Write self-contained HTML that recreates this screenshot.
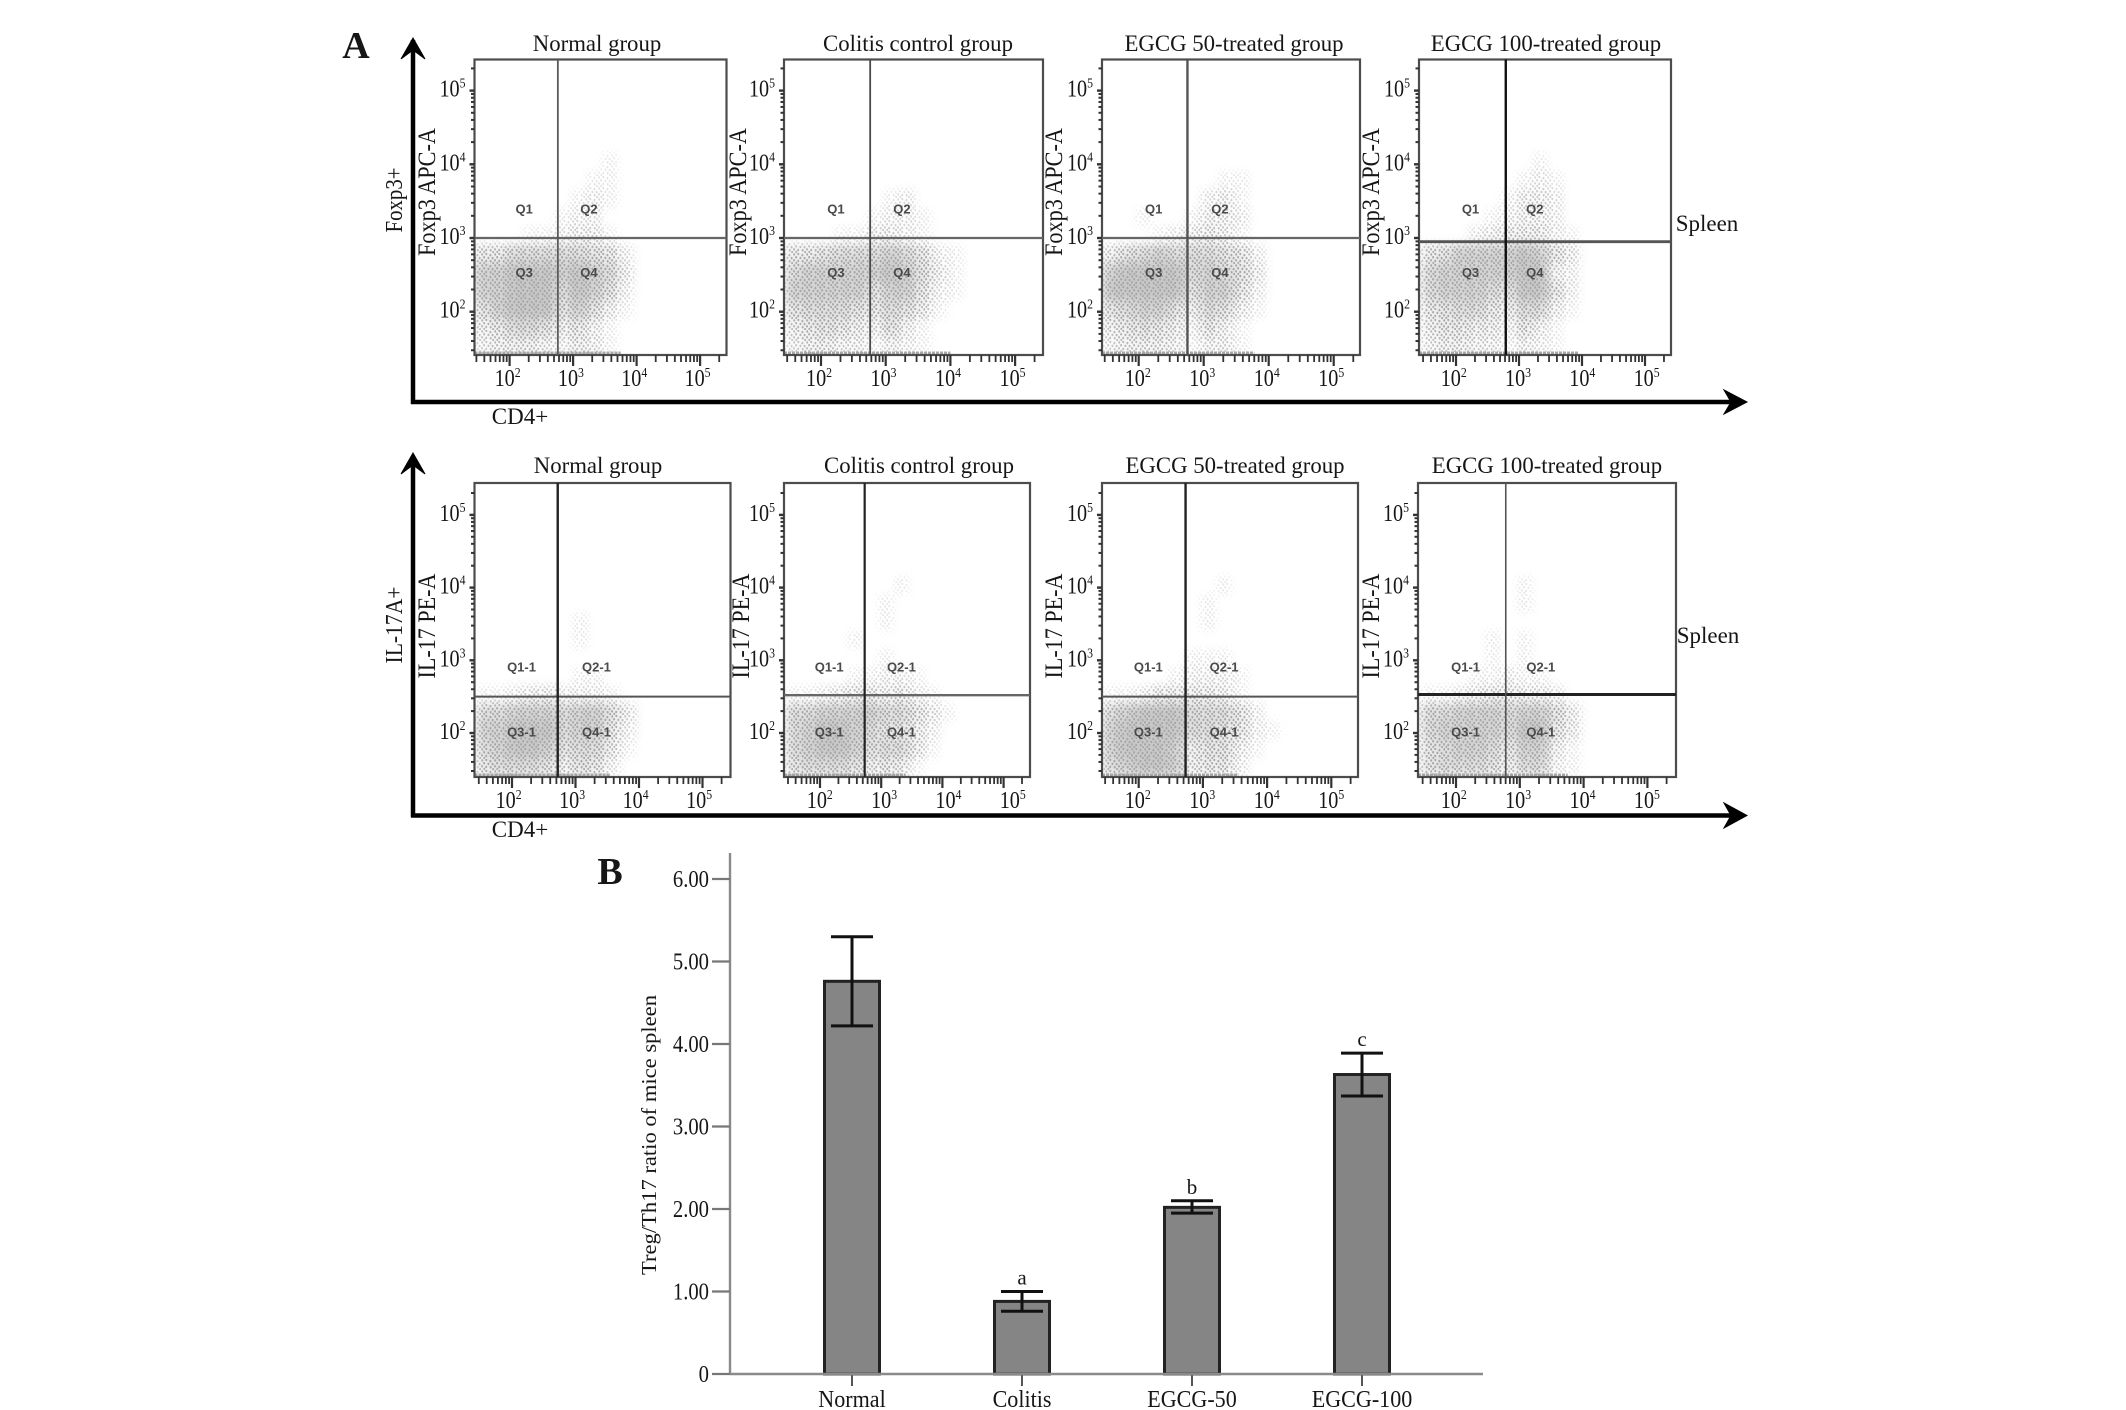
<!DOCTYPE html>
<html lang="en">
<head>
<meta charset="utf-8">
<title>Treg and Th17 flow cytometry with Treg/Th17 ratio</title>
<style>
html,body{margin:0;padding:0;background:#fff;width:2126px;height:1410px;overflow:hidden}
svg{display:block}
text{font-family:"Liberation Serif",serif;fill:#161616}
.q{font-family:"Liberation Sans",sans-serif;font-size:13px;font-weight:bold;fill:#4a4a4a;text-anchor:middle;dominant-baseline:middle}
</style>
</head>
<body>
<svg id="figure" width="2126" height="1410" viewBox="0 0 2126 1410" xmlns="http://www.w3.org/2000/svg">
  <defs>
    <pattern id="stipple" width="13" height="11" patternUnits="userSpaceOnUse">
      <g fill="#a6a6a6">
        <ellipse cx="1.2" cy="1.4" rx="1" ry="1.3"/>
        <ellipse cx="5.3" cy="0.9" rx="1" ry="1.3"/>
        <ellipse cx="9.4" cy="2.1" rx="1" ry="1.3"/>
        <ellipse cx="3.1" cy="4.2" rx="1" ry="1.3"/>
        <ellipse cx="7.4" cy="4.9" rx="1" ry="1.3"/>
        <ellipse cx="11.6" cy="5.1" rx="1" ry="1.3"/>
        <ellipse cx="1.0" cy="7.3" rx="1" ry="1.3"/>
        <ellipse cx="5.2" cy="7.9" rx="1" ry="1.3"/>
        <ellipse cx="9.7" cy="8.2" rx="1" ry="1.3"/>
        <ellipse cx="3.3" cy="9.9" rx="1" ry="1.1"/>
        <ellipse cx="12.1" cy="10.1" rx="1" ry="1.1"/>
      </g>
    </pattern>
    <filter id="soft" x="-10%" y="-10%" width="120%" height="120%"><feGaussianBlur stdDeviation="5"/></filter>
    <filter id="softer" x="-10%" y="-10%" width="120%" height="120%"><feGaussianBlur stdDeviation="4"/></filter>
  </defs>
  <rect width="2126" height="1410" fill="#fff"/>
  <text x="356" y="58" font-size="38" font-weight="bold" text-anchor="middle">A</text>
  <text x="610" y="884" font-size="38" font-weight="bold" text-anchor="middle">B</text>

  <g fill="none" stroke="#000" stroke-width="4.5">
    <path d="M413 404V40"/>
    <path d="M401 59L413 38L425 59L413 50Z" fill="#000" stroke-width="1"/>
    <path d="M411 402H1742"/>
    <path d="M1724 390L1747 402L1724 414L1731 402Z" fill="#000" stroke-width="1"/>
  </g>
  <g fill="none" stroke="#000" stroke-width="4.5">
    <path d="M413 817V457"/>
    <path d="M401 474L413 453L425 474L413 465Z" fill="#000" stroke-width="1"/>
    <path d="M411 815.5H1742"/>
    <path d="M1724 803L1747 815.5L1724 828L1731 815.5Z" fill="#000" stroke-width="1"/>
  </g>

  <text transform="translate(402,200) rotate(-90)" font-size="24" text-anchor="middle" textLength="65" lengthAdjust="spacingAndGlyphs">Foxp3+</text>
  <text transform="translate(402,625) rotate(-90)" font-size="24" text-anchor="middle" textLength="77" lengthAdjust="spacingAndGlyphs">IL-17A+</text>
  <text x="520" y="424" font-size="23" text-anchor="middle">CD4+</text>
  <text x="520" y="837" font-size="23" text-anchor="middle">CD4+</text>
  <text x="1707" y="231" font-size="23" text-anchor="middle">Spleen</text>
  <text x="1708" y="643" font-size="23" text-anchor="middle">Spleen</text>

  <g id="panels"></g>
  <g id="bars"></g>
</svg>

<script>
// ---------- Flow cytometry data ----------
var groupNames = ["Normal group", "Colitis control group", "EGCG 50-treated group", "EGCG 100-treated group"];
var decadeTicks = [2, 3, 4, 5];
var minorMultipliers = [2, 3, 4, 5, 6, 7, 8, 9];

// Gate positions, log10 units
var foxp3GateX = [2.76, 2.76, 2.75, 2.79];
var foxp3GateY = [3.0, 3.0, 3.0, 2.95];
var il17GateX = [2.72, 2.73, 2.73, 2.78];
var il17GateY = [2.5, 2.52, 2.5, 2.53];

// Extent of the events piled on the lower axis, log10 x
var foxp3PileEnd = [3.75, 4.0, 3.78, 3.95];
var il17PileEnd = [3.55, 3.4, 3.55, 3.75];

// Event density (0-9), rows from log y 4.41 down to 1.41, columns from log x 1.45 upward, 0.25 decade each
var densityFoxp3Normal = [
"000000000000","000000001000","000000011000","000000121000","000001220000","000112331000",
"557777765200","889998987300","889997986200","689996863100","457764531000","344432431000"];
var densityFoxp3Colitis = [
"000000000000","000000000000","000000000000","000000120000","000001221000","000113321000",
"556777875210","788888986310","888886885210","677765764100","456543631000","344331321000"];
var densityFoxp3Egcg50 = [
"000000000000","000000000000","000000011000","000000231000","001001332000","000123431000",
"467877765200","899997876300","999996885200","678864763100","456542531000","344431331000"];
var densityFoxp3Egcg100 = [
"000000000000","000000010000","000000121000","000001332000","000012332000","000234442100",
"568888985300","788888993200","788876995200","567754773100","455442531000","344331321000"];
var densityIl17Normal = [
"000000000000","000000000000","000000000000","000000100000","000000100000","000000000000",
"000000110000","112332221000","778887886300","889997885200","789986774100","677764652000"];
var densityIl17Colitis = [
"000000000000","000000010000","000000100000","000000100000","000010000000","000000100000",
"000011221000","112344342100","778888775310","789987664200","789986774100","677764541000"];
var densityIl17Egcg50 = [
"000000000000","000000010000","000000100000","000000100000","000000000000","000001110000",
"000012221000","112444431000","789997775200","899997765210","899984663100","789984552000"];
var densityIl17Egcg100 = [
"000000000000","000000100000","000000100000","000000000000","000010100000","000010100000",
"000112110000","112344332000","778887886300","788887995300","678875883100","677764772100"];

// ---------- Bar chart data ----------
var barCategories = ["Normal", "Colitis", "EGCG-50", "EGCG-100"];
var barMeans = [4.76, 0.88, 2.02, 3.63];
var barUpper = [5.30, 1.00, 2.10, 3.89];
var barLower = [4.22, 0.76, 1.95, 3.37];
var barLetters = ["", "a", "b", "c"];
var barTicks = ["0", "1.00", "2.00", "3.00", "4.00", "5.00", "6.00"];
var barTickValues = [0, 1, 2, 3, 4, 5, 6];

// ---------- Layout (not data) ----------
var NS = "http://www.w3.org/2000/svg";
var layout = [
  {row:"foxp3", label:"Foxp3 APC-A", len:128, density:[densityFoxp3Normal,densityFoxp3Colitis,densityFoxp3Egcg50,densityFoxp3Egcg100], gx:foxp3GateX, gy:foxp3GateY, pile:foxp3PileEnd,
   titleY:51, labelCy:192, top:59.5, bottom:355, y2:311.7, yd:73.7, yLabelShift:-1, xLabelY:385,
   qY:[3.38,2.52], qX:[2.23,3.25], qSuffix:"",
   cols:[
    {l:474.5,r:726.5,x2:509.6,xd:63.5,lab2:508.6,labd:63.3,cx:597,lx:435,vc:"#5a5a5a",vw:1.8,hc:"#666",hw:2.2},
    {l:784,r:1043,x2:821,xd:64.7,lab2:820,labd:64.5,cx:918,lx:746,vc:"#4a4a4a",vw:1.8,hc:"#666",hw:2.2},
    {l:1102,r:1360,x2:1138.7,xd:65,lab2:1138.7,labd:64.5,cx:1234,lx:1062,vc:"#555",vw:2.4,hc:"#666",hw:2.2},
    {l:1419,r:1671,x2:1456,xd:63,lab2:1454.7,labd:64.3,cx:1546,lx:1379,vc:"#111",vw:2.4,hc:"#555",hw:2.8}]},
  {row:"il17", label:"IL-17 PE-A", len:105, density:[densityIl17Normal,densityIl17Colitis,densityIl17Egcg50,densityIl17Egcg100], gx:il17GateX, gy:il17GateY, pile:il17PileEnd,
   titleY:473, labelCy:626, top:483, bottom:777, y2:733, yd:72.7, yLabelShift:-1, xLabelY:807,
   qY:[2.89,2.0], qX:[2.15,3.33], qSuffix:"-1",
   cols:[
    {l:474.5,r:730.5,x2:512,xd:63.5,lab2:509.6,labd:63.5,cx:598,lx:435,vc:"#222",vw:2.4,hc:"#555",hw:2},
    {l:784,r:1030,x2:820,xd:61.2,lab2:820.8,labd:64.3,cx:919,lx:749,vc:"#222",vw:2.2,hc:"#666",hw:2.4},
    {l:1102,r:1358,x2:1138.7,xd:64.2,lab2:1138.7,labd:64.5,cx:1235,lx:1062,vc:"#222",vw:2.4,hc:"#555",hw:2},
    {l:1418,r:1676,x2:1456,xd:63.8,lab2:1454.7,labd:64.4,cx:1547,lx:1379,vc:"#555",vw:1.6,hc:"#222",hw:3}]}
];
var DEF = document.getElementById("figure").querySelector("defs");
var panelsRoot = document.getElementById("panels");
var barsRoot = document.getElementById("bars");

function svgEl(parent, tag, attrs, txt) {
  var e = document.createElementNS(NS, tag);
  for (var k in attrs) { e.setAttribute(k, attrs[k]); }
  if (txt !== undefined) { e.textContent = txt; }
  parent.appendChild(e);
  return e;
}

layout.forEach(function (rowCfg) {
  rowCfg.cols.forEach(function (c, i) {
    var slug = rowCfg.row + "-panel-" + (i + 1);
    function xScale(v) { return c.x2 + (v - 2) * c.xd; }
    function yScale(v) { return rowCfg.y2 - (v - 2) * rowCfg.yd; }

    var g = svgEl(panelsRoot, "g", {});
    
    

    var clip = svgEl(DEF, "clipPath", {id: "clip-" + slug});
    svgEl(clip, "rect", {x: c.l, y: rowCfg.top, width: c.r - c.l, height: rowCfg.bottom - rowCfg.top});
    var mask = svgEl(DEF, "mask", {id: "mask-" + slug, maskUnits: "userSpaceOnUse", x: c.l - 20, y: rowCfg.top - 20, width: c.r - c.l + 40, height: rowCfg.bottom - rowCfg.top + 40});
    var maskBlur = svgEl(mask, "g", {filter: "url(#softer)"});

    var clipped = svgEl(g, "g", {"clip-path": "url(#clip-" + slug + ")"});
    
    
    var soft = svgEl(clipped, "g", {filter: "url(#soft)"});
    
    

    var grid = rowCfg.density[i];
    var xStart = 1.45, yStart = 4.41, step = 0.25;
    grid.forEach(function (rowStr, r) {
      for (var col = 0; col < rowStr.length; col++) {
        var d = +rowStr.charAt(col);
        if (!d) { continue; }
        var x0 = xScale(xStart + col * step), x1 = xScale(xStart + (col + 1) * step);
        var y0 = yScale(yStart - r * step), y1 = yScale(yStart - (r + 1) * step);
        var a = svgEl(soft, "rect", {x: x0, y: y0, width: x1 - x0 + 0.5, height: y1 - y0 + 0.5, fill: "#a8a8a8", "fill-opacity": (Math.pow(d / 9, 2.2) * 0.62).toFixed(3)});
        
        
        var b = svgEl(maskBlur, "rect", {x: x0, y: y0, width: x1 - x0 + 0.5, height: y1 - y0 + 0.5, fill: "#fff", "fill-opacity": Math.min(1, 0.12 + d / 6).toFixed(3)});
        
        
      }
    });
    var dots = svgEl(clipped, "rect", {x: c.l, y: rowCfg.top, width: c.r - c.l, height: rowCfg.bottom - rowCfg.top, fill: "url(#stipple)", mask: "url(#mask-" + slug + ")"});
    
    

    var pile = svgEl(g, "line", {x1: c.l, x2: xScale(rowCfg.pile[i]), y1: rowCfg.bottom - 2, y2: rowCfg.bottom - 2, stroke: "#a8a8a8", "stroke-width": 3, "stroke-dasharray": "3 1"});
    
    

    var frame = svgEl(g, "rect", {x: c.l, y: rowCfg.top, width: c.r - c.l, height: rowCfg.bottom - rowCfg.top, fill: "none", stroke: "#4c4c4c", "stroke-width": 2.2});
    
    

    var hg = svgEl(g, "line", {x1: c.l, x2: c.r, y1: yScale(rowCfg.gy[i]), y2: yScale(rowCfg.gy[i]), stroke: c.hc, "stroke-width": c.hw});
    
    
    var vg = svgEl(g, "line", {x1: xScale(rowCfg.gx[i]), x2: xScale(rowCfg.gx[i]), y1: rowCfg.top, y2: rowCfg.bottom, stroke: c.vc, "stroke-width": c.vw});
    
    

    // ticks
    var tk = svgEl(g, "g", {stroke: "#333", fill: "none"});
    
    
    var decadesAll = [1, 2, 3, 4, 5];
    decadesAll.forEach(function (dec) {
      minorMultipliers.concat([1]).forEach(function (m) {
        var v = dec + Math.log(m) / Math.LN10;
        var major = m === 1;
        var px = xScale(v);
        if (px > c.l + 1 && px < c.r - 1) {
          var t = svgEl(tk, "line", {x1: px, x2: px, y1: rowCfg.bottom, y2: rowCfg.bottom + (major ? 11 : 7), "stroke-width": major ? 2.2 : 1.8});
          
          
        }
        var py = yScale(v);
        if (py > rowCfg.top + 1 && py < rowCfg.bottom - 1) {
          var u = svgEl(tk, "line", {x1: c.l, x2: c.l - (major ? 5 : 3.5), y1: py, y2: py, "stroke-width": major ? 2.4 : 2});
          
          
        }
      });
    });

    // tick labels
    decadeTicks.forEach(function (dec, di) {
      var xl = svgEl(g, "text", {transform: "translate(" + (c.lab2 + di * c.labd - 1) + "," + (rowCfg.xLabelY + 1) + ") scale(0.84,1)", "font-size": 24, "text-anchor": "middle"});
      
      
      svgEl(xl, "tspan", {}, "10");
      svgEl(xl, "tspan", {"font-size": 14, dy: -9}, String(dec));

      var yl = svgEl(g, "text", {transform: "translate(" + (c.l - 9) + "," + (yScale(dec) + rowCfg.yLabelShift + 7) + ") scale(0.84,1)", "font-size": 24, "text-anchor": "end"});
      
      
      svgEl(yl, "tspan", {}, "10");
      svgEl(yl, "tspan", {"font-size": 14, dy: -9}, String(dec));
    });

    // quadrant names
    [["Q1", 0, 0], ["Q2", 1, 0], ["Q3", 0, 1], ["Q4", 1, 1]].forEach(function (q) {
      var ql = svgEl(g, "text", {x: xScale(rowCfg.qX[q[1]]), y: yScale(rowCfg.qY[q[2]]), "class": "q"}, q[0] + rowCfg.qSuffix);
      
      
    });

    // texts
    var title = svgEl(g, "text", {x: c.cx, y: rowCfg.titleY, "font-size": 22.8, "text-anchor": "middle"}, groupNames[i]);
    
    
    var yt = svgEl(g, "text", {transform: "translate(" + c.lx + "," + rowCfg.labelCy + ") rotate(-90)", "font-size": 25, "text-anchor": "middle", textLength: rowCfg.len, lengthAdjust: "spacingAndGlyphs"}, rowCfg.label);
    
    
  });
});

// ---------- Bar chart ----------
var barAxisX = 730, barAxisRight = 1483, barZeroY = 1374, barUnit = 82.5, barTop = 853;
var barWidth = 55, capWidth = 42, firstCenter = 852, centerStep = 170;
function barY(v) { return barZeroY - v * barUnit; }
function barX(i) { return firstCenter + i * centerStep; }

var barBodies = svgEl(barsRoot, "g", {});



barMeans.forEach(function (v, i) {
  var rect = svgEl(barBodies, "rect", {x: barX(i) - barWidth / 2, y: barY(v), width: barWidth, height: barZeroY - barY(v), fill: "#858585", stroke: "#222", "stroke-width": 3});
  
  

  var stem = svgEl(barBodies, "line", {x1: barX(i), x2: barX(i), y1: barY(barUpper[i]), y2: barY(barLower[i]), stroke: "#111", "stroke-width": 3});
  
  
  var capU = svgEl(barBodies, "line", {x1: barX(i) - capWidth / 2, x2: barX(i) + capWidth / 2, y1: barY(barUpper[i]), y2: barY(barUpper[i]), stroke: "#111", "stroke-width": 3});
  
  
  var capL = svgEl(barBodies, "line", {x1: barX(i) - capWidth / 2, x2: barX(i) + capWidth / 2, y1: barY(barLower[i]), y2: barY(barLower[i]), stroke: "#111", "stroke-width": 3});
  
  

  if (barLetters[i]) {
    var let1 = svgEl(barBodies, "text", {x: barX(i), y: barY(barUpper[i]) - 7, "font-size": 21, "text-anchor": "middle"}, barLetters[i]);
    
    
  }

  var tick = svgEl(barBodies, "line", {x1: barX(i), x2: barX(i), y1: barZeroY, y2: barZeroY + 12, stroke: "#555", "stroke-width": 2});
  
  
  var cat = svgEl(barBodies, "text", {transform: "translate(" + barX(i) + "," + (barZeroY + 33) + ") scale(0.92,1)", "font-size": 24, "text-anchor": "middle"}, barCategories[i]);
  
  
});

var yAxisLine = svgEl(barsRoot, "line", {x1: barAxisX, x2: barAxisX, y1: barTop, y2: barZeroY, stroke: "#8a8a8a", "stroke-width": 2.4});


var xAxisLine = svgEl(barsRoot, "line", {x1: barAxisX, x2: barAxisRight, y1: barZeroY, y2: barZeroY, stroke: "#8a8a8a", "stroke-width": 2.4});



barTickValues.forEach(function (v, i) {
  var t = svgEl(barsRoot, "line", {x1: 712, x2: barAxisX, y1: barY(v), y2: barY(v), stroke: "#777", "stroke-width": 2.2});
  
  
  var l = svgEl(barsRoot, "text", {transform: "translate(709," + (barY(v) + 8) + ") scale(0.86,1)", "font-size": 24, "text-anchor": "end"}, barTicks[i]);
  
  
});

var barTitle = svgEl(barsRoot, "text", {transform: "translate(656,1135) rotate(-90)", "font-size": 21, "text-anchor": "middle", textLength: 280, lengthAdjust: "spacingAndGlyphs"}, "Treg/Th17 ratio of mice spleen");


</script>
</body>
</html>
